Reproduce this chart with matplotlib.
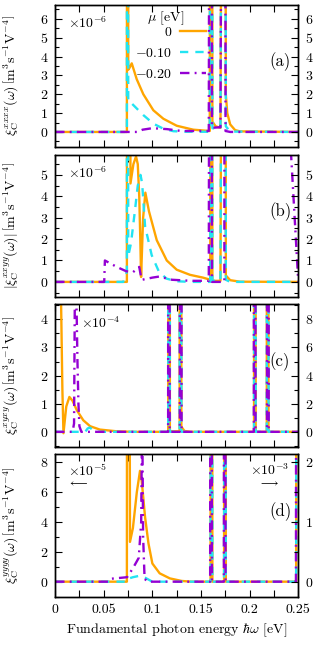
import numpy as np
import matplotlib
matplotlib.use("Agg")
import matplotlib.pyplot as plt
from matplotlib.ticker import MultipleLocator

plt.rcParams["font.family"] = "serif"
plt.rcParams["font.serif"] = ["cmr10"]
plt.rcParams["mathtext.fontset"] = "cm"
plt.rcParams["axes.formatter.use_mathtext"] = True
plt.rcParams["axes.unicode_minus"] = False

# values (60 = off the top of the panel)
mu_labels = [r"$0$", r"$-0.10$", r"$-0.20$"]

# (a) xxxx
xa_0 = [0, 0.0738, 0.0743, 0.0752, 0.0765, 0.0788, 0.0839, 0.0907, 0.101, 0.1113, 0.125, 0.142, 0.159,
        0.1603, 0.1612, 0.1617, 0.165, 0.17, 0.1742, 0.1748, 0.1755, 0.177, 0.18, 0.185, 0.19, 0.25]
ya_0 = [0, 0, 60, 3.3, 3.4, 3.64, 2.8, 2.0, 1.15, 0.7, 0.33, 0.12, 0.05,
        60, 60, 0.55, 0.3, 0.22, 60, 60, 2.0, 1.0, 0.4, 0.1, 0.03, 0]
xa_1 = [0, 0.0738, 0.0743, 0.0752, 0.0788, 0.0908, 0.101, 0.111, 0.1215, 0.135, 0.159,
        0.1603, 0.1612, 0.1617, 0.17, 0.1742, 0.1748, 0.1755, 0.18, 0.25]
ya_1 = [0, 0, 60, 1.6, 1.51, 0.89, 0.44, 0.18, 0.04, 0.01, 0.01,
        60, 60, 0.2, 0.15, 60, 60, 0.3, 0.02, 0]
xa_2 = [0, 0.084, 0.09, 0.1, 0.115, 0.13, 0.158, 0.1598, 0.1607, 0.1612, 0.17, 0.1740, 0.1746, 0.1752, 0.18, 0.25]
ya_2 = [0, 0, 0.12, 0.2, 0.15, 0.05, 0.05, 60, 60, 0.22, 0.25, 60, 60, 0.05, 0, 0]

# (b) |xxyy|
xb_0 = [0, 0.0738, 0.0743, 0.075, 0.0775, 0.0805, 0.0832, 0.085, 0.0865, 0.0876, 0.0884, 0.0905, 0.0928,
        0.0965, 0.1045, 0.1148, 0.125, 0.1387, 0.152, 0.1595, 0.1603, 0.1612, 0.1617, 0.17, 0.1742, 0.1748,
        0.1755, 0.18, 0.19, 0.25]
yb_0 = [0, 0, 60, 60, 4.6, 5.5, 5.86, 5.5, 4.0, 2.0, 0.23, 3.0, 4.17,
        3.3, 1.95, 1.0, 0.57, 0.33, 0.2, 0.1, 60, 60, 0.05, 0.05, 60, 60,
        0.3, 0.08, 0.01, 0]
xb_1 = [0, 0.070, 0.072, 0.0738, 0.0742, 0.0752, 0.078, 0.082, 0.085, 0.0878, 0.0895, 0.0925, 0.0993,
        0.107, 0.1147, 0.125, 0.14, 0.1595, 0.1603, 0.1612, 0.1617, 0.17, 0.1742, 0.1748, 0.1755, 0.18, 0.25]
yb_1 = [0, 0, 0.2, 0.5, 60, 1.2, 1.8, 3.3, 4.5, 5.0, 4.6, 2.6, 1.25,
        0.45, 0.15, 0.03, 0, 0, 60, 60, 0.05, 0.05, 60, 60, 0.1, 0, 0]
xb_2 = [0, 0.0505, 0.0512, 0.0634, 0.073, 0.08, 0.0865, 0.0885, 0.0895, 0.1, 0.107, 0.12, 0.14, 0.158,
        0.1598, 0.1607, 0.1612, 0.174, 0.1746, 0.1752, 0.25]
yb_2 = [0, 0, 1.0, 0.7, 0.5, 0.45, 0.7, 0.2, 0.1, 0.2, 0.25, 0.1, 0.05, 0.05,
        60, 60, 0, 0, 60, 60, 0]

# (c) xyxy
xc_0 = [0.0005, 0.0062, 0.0075, 0.0086, 0.0115, 0.0147, 0.018, 0.0223, 0.029, 0.036, 0.046, 0.063, 0.08,
        0.1163, 0.1168, 0.1176, 0.118, 0.128, 0.1286, 0.1294, 0.1298, 0.133, 0.14,
        0.2045, 0.205, 0.2058, 0.2062, 0.2176, 0.2182, 0.219, 0.2194, 0.25]
yc_0 = [100, 4.5, 1.5, -0.05, 0.9, 1.24, 1.1, 0.77, 0.41, 0.2, 0.08, 0.02, 0,
        0, 60, 60, 0.02, 0.02, 60, 60, 0.18, 0.03, 0,
        0, 60, 60, 0, 0, 60, 60, 0, 0]
xc_1 = [0, 0.031, 0.0335, 0.0355, 0.0377, 0.041, 0.1163, 0.1168, 0.1176, 0.118, 0.128, 0.1286, 0.1294,
        0.1298, 0.2045, 0.205, 0.2058, 0.2062, 0.2176, 0.2182, 0.219, 0.2194, 0.25]
yc_1 = [0, 0, 0.12, 0.15, 0.1, 0, 0, 60, 60, 0, 0, 60, 60,
        0, 0, 60, 60, 0, 0, 60, 60, 0, 0]
xc_2 = [0, 0.018, 0.0195, 0.0205, 0.022, 0.023, 0.024, 0.025, 0.027, 0.1162, 0.1166, 0.1174, 0.1178,
        0.1282, 0.1288, 0.1296, 0.13, 0.2043, 0.2048, 0.2056, 0.206, 0.2178, 0.2184, 0.2192, 0.2196, 0.25]
yc_2 = [0, 0, 0.3, 6, 4.6, 2.5, 1.0, 0.2, 0, 0, 60, 60, 0,
        0, 60, 60, 0, 0, 60, 60, 0, 0, 60, 60, 0, 0]

# (d) yyyy
xd_0 = [0, 0.0738, 0.0743, 0.0752, 0.077, 0.08, 0.084, 0.0873, 0.089, 0.0925, 0.096, 0.1, 0.1075,
        0.118, 0.13, 0.14, 0.1598, 0.1603, 0.1612, 0.1617, 0.1737, 0.1742, 0.1748, 0.1755,
        0.2478, 0.2485, 0.25]
yd_0 = [0, 0, 60, 60, 2.67, 3.6, 6.0, 7.44, 6.8, 4.33, 2.56, 1.22, 0.56,
        0.22, 0.05, 0, 0, 60, 60, 0, 0, 60, 60, 0,
        0, 60, 60]
xd_1 = [0, 0.073, 0.075, 0.08, 0.087, 0.093, 0.1, 0.1598, 0.1603, 0.1612, 0.1617, 0.1737, 0.1742, 0.1748,
        0.1755, 0.2478, 0.2485, 0.25]
yd_1 = [0, 0, 0.2, 0.3, 0.4, 0.25, 0, 0, 60, 60, 0, 0, 60, 60,
        0, 0, 60, 60]
xd_2 = [0, 0.055, 0.058, 0.074, 0.08, 0.086, 0.0885, 0.0895, 0.0905, 0.092, 0.095, 0.1594, 0.1598,
        0.1607, 0.1612, 0.1735, 0.174, 0.1746, 0.1752, 0.2476, 0.2483, 0.25]
yd_2 = [0, 0, 0.2, 0.3, 0.9, 1.6, 4.0, 12, 3.0, 0.2, 0, 0, 60,
        60, 0, 0, 60, 60, 0, 0, 60, 60]

colors = ["#ffa500", "#22e4f2", "#9400d3"]
styles = ["-", (0, (3.5, 3)), (0, (4, 2.2, 0.8, 2.2))]
lw = 1.7

panels = [
    ([xa_0, xa_1, xa_2], [ya_0, ya_1, ya_2], (-0.8, 6.75), 1, 1.0,
     r"$\xi_{\mathrm{C}}^{xxxx}(\omega)\,\left[\mathrm{m^3s^{-1}V^{-4}}\right]$", "(a)"),
    ([xb_0, xb_1, xb_2], [yb_0, yb_1, yb_2], (-0.7, 5.95), 1, 1.0,
     r"$|\xi_{\mathrm{C}}^{xxyy}(\omega)|\,\left[\mathrm{m^3s^{-1}V^{-4}}\right]$", "(b)"),
    ([xc_0, xc_1, xc_2], [yc_0, yc_1, yc_2], (-0.53, 4.53), 1, 2.0,
     r"$\xi_{\mathrm{C}}^{xyxy}(\omega)\,\left[\mathrm{m^3s^{-1}V^{-4}}\right]$", "(c)"),
    ([xd_0, xd_1, xd_2], [yd_0, yd_1, yd_2], (-1.0, 8.55), 2, 0.25,
     r"$\xi_{\mathrm{C}}^{yyyy}(\omega)\,\left[\mathrm{m^3s^{-1}V^{-4}}\right]$", "(d)"),
]
right_steps = [1, 1, 2, 1]

fig, axes = plt.subplots(4, 1, figsize=(3.13, 6.46), dpi=100, sharex=True)
fig.subplots_adjust(left=0.176, right=0.953, bottom=0.0765, top=0.9927, hspace=0.053)

for i, (ax, (xs, ys, ylim, ystep, rfac, ylab, tag)) in enumerate(zip(axes, panels)):
    for k in range(3):
        ax.plot(xs[k], ys[k], color=colors[k], linestyle=styles[k], lw=lw, label=mu_labels[k])
    ax.set_xlim(0, 0.25)
    ax.set_ylim(*ylim)
    ax.yaxis.set_major_locator(MultipleLocator(ystep))
    ax.yaxis.set_minor_locator(MultipleLocator(ystep / 2))
    ax.xaxis.set_major_locator(MultipleLocator(0.05))
    ax.xaxis.set_minor_locator(MultipleLocator(0.025))
    ax.tick_params(which="both", direction="in", top=True, right=False, labelsize=10, pad=5)
    ax.tick_params(which="major", length=5, width=0.8)
    ax.tick_params(which="minor", length=3, width=0.8)
    ax.tick_params(axis="x", which="minor", length=5)
    for s in ax.spines.values():
        s.set_linewidth(1.0)
    ax.set_ylabel(ylab, fontsize=10)
    ax.yaxis.set_label_coords(-0.14, 0.5)
    ax.text(0.925, 0.6, tag, transform=ax.transAxes, ha="center", va="center", fontsize=12)

    # right axis
    tw = ax.twinx()
    tw.set_ylim(ylim[0] * rfac, ylim[1] * rfac)
    tw.yaxis.set_major_locator(MultipleLocator(right_steps[i]))
    tw.yaxis.set_minor_locator(MultipleLocator(right_steps[i] / 2))
    tw.tick_params(which="both", direction="in", labelsize=10, pad=5)
    tw.tick_params(which="major", length=5, width=0.8)
    tw.tick_params(which="minor", length=3, width=0.8)
    for s in tw.spines.values():
        s.set_linewidth(1.0)

axes[-1].xaxis.set_major_formatter(plt.FuncFormatter(lambda v, p: "0" if v == 0 else f"{v:g}"))
axes[-1].set_xlabel(r"Fundamental photon energy $\hbar\omega$ [eV]", fontsize=10)

axes[0].text(0.055, 0.87, r"$\times10^{-6}$", transform=axes[0].transAxes, fontsize=10, va="center")
axes[1].text(0.055, 0.87, r"$\times10^{-6}$", transform=axes[1].transAxes, fontsize=10, va="center")
axes[2].text(0.105, 0.867, r"$\times10^{-4}$", transform=axes[2].transAxes, fontsize=10, va="center")
axes[3].text(0.055, 0.885, r"$\times10^{-5}$", transform=axes[3].transAxes, fontsize=10, va="center")
axes[3].text(0.055, 0.795, r"$\longleftarrow$", transform=axes[3].transAxes, fontsize=8, va="center")
axes[3].text(0.80, 0.885, r"$\times10^{-3}$", transform=axes[3].transAxes, fontsize=10, va="center")
axes[3].text(0.84, 0.795, r"$\longrightarrow$", transform=axes[3].transAxes, fontsize=8, va="center")

# legend, gnuplot style: label left of the sample, title above
axes[0].legend(loc="upper right", bbox_to_anchor=(0.622, 0.848), frameon=False,
               markerfirst=False, fontsize=10, handlelength=1.9,
               labelspacing=0.55, handletextpad=0.55, borderaxespad=0, borderpad=0)
axes[0].text(0.456, 0.907, r"$\mu$ [eV]", transform=axes[0].transAxes, ha="center", va="center", fontsize=10)

plt.savefig("out.png", dpi=100)
